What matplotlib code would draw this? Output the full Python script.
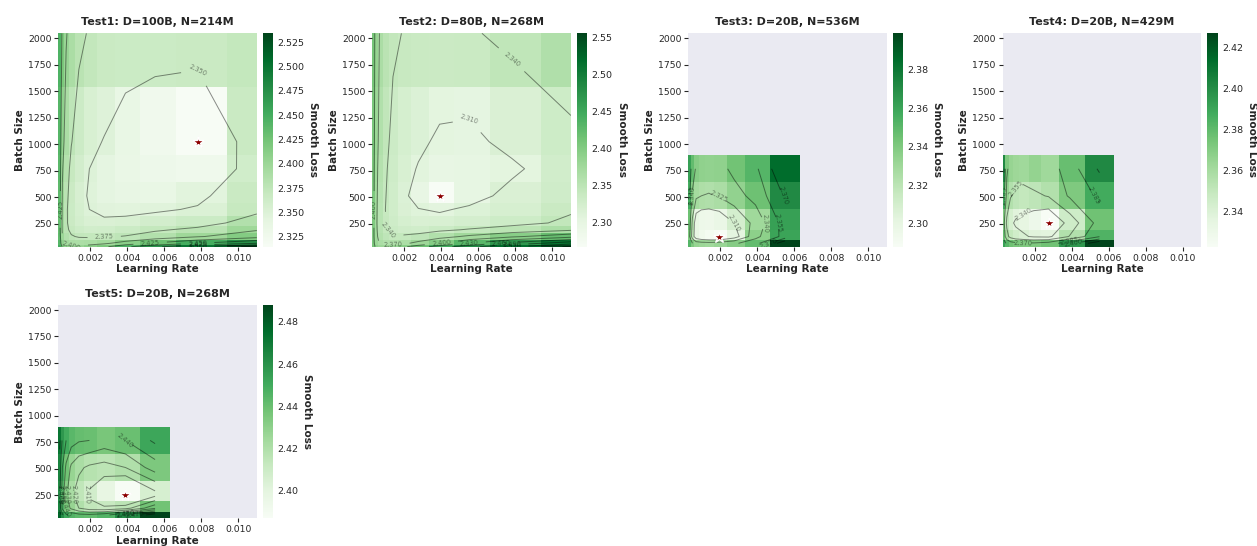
import numpy as np
import matplotlib
matplotlib.use('Agg')
import matplotlib.pyplot as plt
from matplotlib.ticker import MultipleLocator

# learning rate / batch size grids
learning_rates = [0.00034, 0.00049, 0.00069, 0.00097, 0.00138, 0.00195,
                  0.00275, 0.0039, 0.0055, 0.0078, 0.011]
lr_short = [0.00034, 0.00049, 0.00069, 0.00097, 0.00138, 0.00195,
            0.00275, 0.0039, 0.0055]
batch_full = [32, 64, 128, 192, 256, 384, 512, 768, 1024, 2048]
batch_short = [64, 128, 256, 512, 768]

titles = ['Test1: D=100B, N=214M', 'Test2: D=80B, N=268M', 'Test3: D=20B, N=536M',
          'Test4: D=20B, N=429M', 'Test5: D=20B, N=268M']

# smooth loss, rows = batch size (ascending), cols = learning rate (ascending)
loss_test1 = [
    [2.450, 2.420, 2.408, 2.402, 2.403, 2.410, 2.420, 2.445, 2.470, 2.500, 2.534],
    [2.440, 2.408, 2.395, 2.390, 2.389, 2.391, 2.396, 2.410, 2.428, 2.450, 2.475],
    [2.435, 2.400, 2.385, 2.377, 2.373, 2.372, 2.373, 2.376, 2.385, 2.398, 2.415],
    [2.432, 2.396, 2.380, 2.370, 2.364, 2.361, 2.362, 2.366, 2.372, 2.380, 2.398],
    [2.432, 2.395, 2.378, 2.367, 2.359, 2.354, 2.353, 2.355, 2.360, 2.366, 2.385],
    [2.434, 2.396, 2.378, 2.366, 2.357, 2.350, 2.346, 2.345, 2.347, 2.352, 2.370],
    [2.436, 2.398, 2.380, 2.367, 2.356, 2.348, 2.342, 2.338, 2.337, 2.345, 2.368],
    [2.438, 2.402, 2.384, 2.370, 2.360, 2.350, 2.342, 2.335, 2.330, 2.327, 2.362],
    [2.440, 2.408, 2.390, 2.376, 2.365, 2.355, 2.349, 2.337, 2.326, 2.315, 2.368],
    [2.445, 2.420, 2.402, 2.390, 2.380, 2.373, 2.368, 2.366, 2.366, 2.368, 2.372],
]
loss_test2 = [
    [2.410, 2.390, 2.380, 2.378, 2.382, 2.395, 2.415, 2.445, 2.480, 2.520, 2.555],
    [2.405, 2.380, 2.366, 2.360, 2.360, 2.365, 2.378, 2.398, 2.430, 2.470, 2.510],
    [2.402, 2.375, 2.358, 2.348, 2.343, 2.343, 2.348, 2.360, 2.375, 2.395, 2.420],
    [2.402, 2.373, 2.355, 2.343, 2.335, 2.330, 2.329, 2.335, 2.342, 2.352, 2.365],
    [2.402, 2.372, 2.354, 2.341, 2.331, 2.323, 2.319, 2.320, 2.325, 2.332, 2.345],
    [2.403, 2.373, 2.354, 2.340, 2.329, 2.318, 2.311, 2.307, 2.314, 2.322, 2.337],
    [2.404, 2.374, 2.355, 2.341, 2.329, 2.316, 2.298, 2.268, 2.300, 2.318, 2.330],
    [2.405, 2.376, 2.357, 2.343, 2.331, 2.320, 2.308, 2.298, 2.300, 2.305, 2.328],
    [2.407, 2.379, 2.360, 2.346, 2.334, 2.323, 2.316, 2.305, 2.303, 2.318, 2.333],
    [2.410, 2.384, 2.366, 2.353, 2.344, 2.339, 2.337, 2.336, 2.337, 2.347, 2.362],
]
loss_test3 = [
    [2.352, 2.340, 2.333, 2.331, 2.330, 2.332, 2.338, 2.348, 2.399],
    [2.340, 2.318, 2.300, 2.294, 2.291, 2.288, 2.302, 2.336, 2.360],
    [2.345, 2.322, 2.300, 2.296, 2.295, 2.298, 2.310, 2.330, 2.362],
    [2.356, 2.338, 2.328, 2.325, 2.324, 2.326, 2.334, 2.345, 2.372],
    [2.362, 2.348, 2.338, 2.335, 2.334, 2.335, 2.344, 2.352, 2.385],
]
loss_test4 = [
    [2.392, 2.382, 2.376, 2.373, 2.372, 2.372, 2.376, 2.396, 2.427],
    [2.378, 2.360, 2.350, 2.345, 2.342, 2.338, 2.337, 2.356, 2.384],
    [2.372, 2.352, 2.343, 2.338, 2.335, 2.330, 2.323, 2.346, 2.376],
    [2.388, 2.366, 2.356, 2.352, 2.350, 2.352, 2.356, 2.372, 2.388],
    [2.402, 2.372, 2.365, 2.363, 2.362, 2.366, 2.362, 2.378, 2.402],
]
loss_test5 = [
    [2.478, 2.462, 2.452, 2.446, 2.443, 2.442, 2.446, 2.462, 2.488],
    [2.466, 2.448, 2.436, 2.428, 2.420, 2.414, 2.412, 2.416, 2.438],
    [2.462, 2.445, 2.432, 2.422, 2.415, 2.408, 2.398, 2.387, 2.406],
    [2.466, 2.450, 2.438, 2.428, 2.422, 2.418, 2.416, 2.420, 2.435],
    [2.472, 2.458, 2.450, 2.444, 2.441, 2.440, 2.436, 2.440, 2.452],
]

tests = [
    (learning_rates, batch_full, loss_test1),
    (learning_rates, batch_full, loss_test2),
    (lr_short, batch_short, loss_test3),
    (lr_short, batch_short, loss_test4),
    (lr_short, batch_short, loss_test5),
]
# contour levels: first level and spacing per panel
contour_start = [2.35, 2.31, 2.31, 2.34, 2.41]
contour_steps = [0.025, 0.03, 0.015, 0.015, 0.01]
cbar_steps = [0.025, 0.05, 0.02, 0.02, 0.02]

plt.rcParams['font.family'] = 'DejaVu Sans'
plt.rcParams['text.color'] = '.15'
plt.rcParams['axes.labelcolor'] = '.15'
plt.rcParams['xtick.color'] = '.15'
plt.rcParams['ytick.color'] = '.15'

fig = plt.figure(figsize=(12.57, 5.46), dpi=100)

col_left = [0.0464, 0.2963, 0.5476, 0.7977]
row_bottom = [0.5482, 0.0507]
ax_w, ax_h = 0.1579, 0.3908

for i, (lrs, bss, loss) in enumerate(tests):
    r, c = divmod(i, 4)
    ax = fig.add_axes([col_left[c], row_bottom[r], ax_w, ax_h])
    cax = fig.add_axes([col_left[c] + ax_w + 0.0048, row_bottom[r], 0.0083, ax_h])
    ax.set_facecolor('#EAEAF2')
    for s in ax.spines.values():
        s.set_visible(False)

    Z = np.array(loss)
    X, Y = np.meshgrid(lrs, bss)
    mesh = ax.pcolormesh(lrs, bss, Z, cmap='Greens', shading='nearest',
                         vmin=Z.min(), vmax=Z.max())

    step = contour_steps[i]
    levels = np.arange(contour_start[i], Z.max(), step)
    cs = ax.contour(X, Y, Z, levels=levels, colors='black', linewidths=0.7, alpha=0.45)
    ax.clabel(cs, inline=True, fontsize=4.8, fmt='%.3f')

    bi, li = np.unravel_index(np.argmin(Z), Z.shape)
    ax.plot(lrs[li], bss[bi], marker='*', color='darkred', markersize=9,
            markeredgecolor='white', markeredgewidth=1.0)

    ax.set_xlim(0.00027, 0.011)
    ax.set_ylim(32, 2048)
    ax.xaxis.set_major_locator(MultipleLocator(0.002))
    ax.yaxis.set_major_locator(MultipleLocator(250))
    ax.tick_params(labelsize=6.7, length=3, width=0.8, pad=2)
    ax.set_xlabel('Learning Rate', fontsize=7.5, fontweight='bold', labelpad=1)
    ax.set_ylabel('Batch Size', fontsize=7.5, fontweight='bold', labelpad=2)
    ax.set_title(titles[i], fontsize=8, fontweight='bold', pad=6)

    cb = fig.colorbar(mesh, cax=cax)
    cb.outline.set_visible(False)
    cb.ax.yaxis.set_major_locator(MultipleLocator(cbar_steps[i]))
    cb.ax.tick_params(labelsize=6.8, length=0, pad=3)
    cb.set_label('Smooth Loss', rotation=270, fontsize=7.5, fontweight='bold', labelpad=10)

fig.savefig('out.png', dpi=100)
